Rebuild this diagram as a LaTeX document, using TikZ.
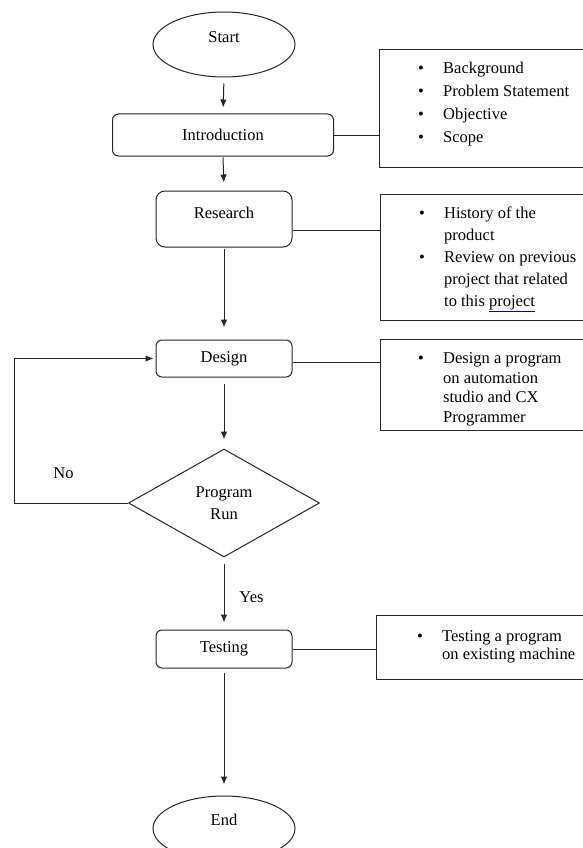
\documentclass[tikz,border=0pt]{standalone}
\usepackage{fontspec}
\setmainfont{Liberation Serif}
\usetikzlibrary{shapes.geometric,arrows.meta}
\newcommand{\spellul}[1]{\textcolor{blue!65!black}{\underline{\textcolor{black}{#1}}}}
\begin{document}
\begin{tikzpicture}[x=1pt,y=-1pt,
  every node/.style={font=\fontsize{16.5}{22}\selectfont, text=black, inner sep=0pt},
  line/.style={draw=black!85, line width=1pt},
  term/.style={ellipse, line, minimum width=142pt, minimum height=65pt},
  procbox/.style={rectangle, line, rounded corners=6pt, minimum width=136pt},
  decision/.style={diamond, line, minimum width=191pt, minimum height=108pt, align=center},
  infobox/.style={rectangle, line, anchor=north west},
  flow/.style={line, -{Latex[length=8pt,width=6.5pt]}},
  listtext/.style={anchor=base west, align=left}
]
\useasboundingbox (0,0) rectangle (583,848);
\clip (0,0) rectangle (583,848);

% flow nodes
\node[term] (start) at (224,44.5) {};
\node (startlbl) at (224,37) {Start};
\node[procbox, minimum width=221pt, minimum height=42pt] (intro) at (223,135) {Introduction};
\node[procbox, rounded corners=9pt, minimum height=56pt] (research) at (224,219) {};
\node (researchlbl) at (224,213) {Research};
\node[procbox, minimum height=37pt] (design) at (224,358.5) {Design};
\node[decision] (run) at (224,503) {Program\\[-0.5pt]Run};
\node[procbox, minimum height=38pt] (testing) at (224,649) {Testing};
\node[term] (end) at (224,828.5) {};
\node (endlbl) at (224,820) {End};

% info boxes
\node[infobox, minimum width=215pt, minimum height=118pt] (ibox) at (379,49) {};
\node[infobox, minimum width=215pt, minimum height=126pt] (rbox) at (380,194) {};
\node[infobox, minimum width=215pt, minimum height=91pt] (dbox) at (380,339) {};
\node[infobox, minimum width=215pt, minimum height=64pt] (tbox) at (376,615) {};

\node[listtext] (ilist) at (418,73.5) {\fontsize{16.5}{23}\selectfont
\begin{tabular}[t]{@{}p{25pt}@{}l@{}}
\textbullet & Background\\
\textbullet & Problem Statement\\
\textbullet & Objective\\
\textbullet & Scope
\end{tabular}};
\node[listtext] (rlist) at (419,218.5) {\fontsize{16.5}{22}\selectfont
\begin{tabular}[t]{@{}p{25pt}@{}l@{}}
\textbullet & History of the\\
 & product\\
\textbullet & Review on previous\\
 & project that related\\
 & to this \spellul{project}
\end{tabular}};
\node[listtext] (dlist) at (418,363.5) {\fontsize{16.5}{19.7}\selectfont
\begin{tabular}[t]{@{}p{25pt}@{}l@{}}
\textbullet & Design a program\\
 & on automation\\
 & studio and CX\\
 & Programmer
\end{tabular}};
\node[listtext] (tlist) at (417,641.5) {\fontsize{16.5}{18}\selectfont
\begin{tabular}[t]{@{}p{25pt}@{}l@{}}
\textbullet & Testing a program\\
 & on existing machine
\end{tabular}};

% labels
\node (nolbl) at (63.5,473) {No};
\node (yeslbl) at (251.5,597) {Yes};

% flow arrows
\draw[flow, shorten <=6pt, shorten >=6pt] (start.south) -- (intro.north);
\draw[flow, shorten <=1pt, shorten >=8pt] (intro.south) -- (research.north);
\draw[flow, shorten <=1pt, shorten >=12pt] (research.south) -- (design.north);
\draw[flow, shorten <=6pt, shorten >=9pt] (design.south) -- (run.north);
\draw[flow, shorten <=6pt, shorten >=7pt] (run.south) -- (testing.north);
\draw[flow, shorten <=4pt, shorten >=11pt] (testing.south) -- (end.north);

% loop back
\coordinate (loopc) at (14,503);
\draw[flow, shorten >=2pt] (run.west) -- (loopc) |- (design.west);

% connectors to info boxes
\draw[line] (intro.east) -- (intro.east -| ibox.west);
\draw[line] ([yshift=-11pt]research.east) -- ([yshift=-11pt]research.east -| rbox.west);
\draw[line] ([yshift=-3.5pt]design.east) -- ([yshift=-3.5pt]design.east -| dbox.west);
\draw[line] (testing.east) -- (testing.east -| tbox.west);
\end{tikzpicture}
\end{document}
